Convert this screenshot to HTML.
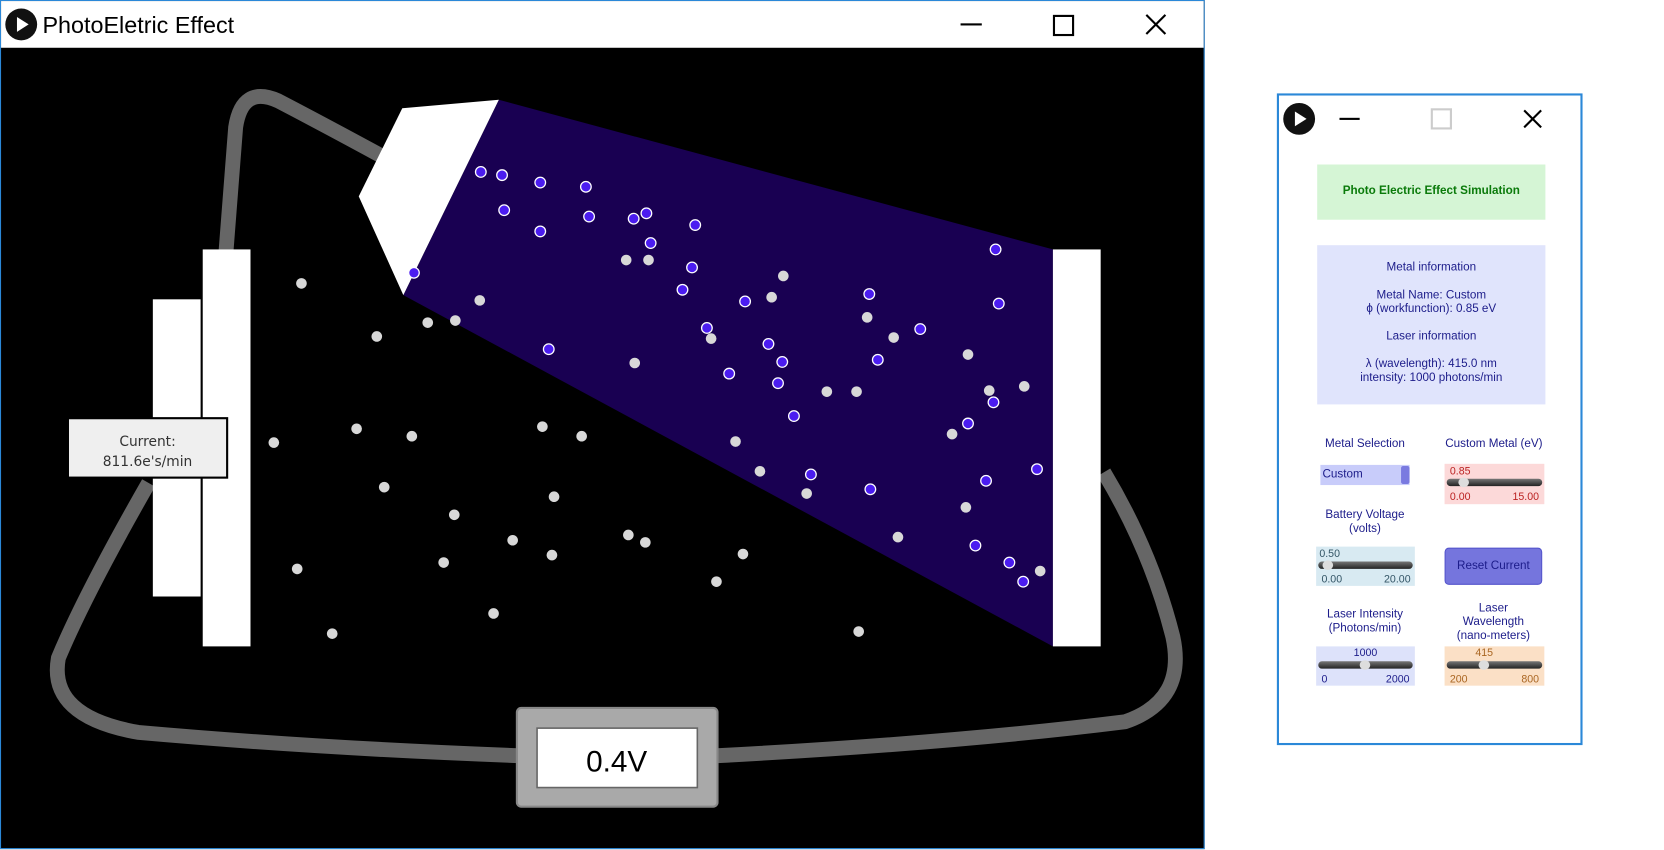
<!DOCTYPE html>
<html><head><meta charset="utf-8"><style>
html,body{margin:0;padding:0;background:#fff;width:1664px;height:850px;overflow:hidden;font-family:"Liberation Sans",sans-serif}
#root{position:absolute;left:0;top:0;width:1550px;height:800px;transform:scale(1.0614);transform-origin:0 0}
.abs{position:absolute}
.t{position:absolute;white-space:nowrap;font-size:11px;color:#1c1c8a;text-align:center}
</style></head><body>
<div id="root">
<div class="abs" style="left:0;top:0;width:1133px;height:798px;border:1px solid #2b88d8;background:#000">
 <div class="abs" style="left:0;top:0;width:1133px;height:44px;background:#fff">
  <div class="abs" style="left:4px;top:7px;width:30px;height:30px;border-radius:50%;background:#111"><div class="abs" style="left:11px;top:8px;width:0;height:0;border-left:11px solid #fff;border-top:7px solid transparent;border-bottom:7px solid transparent"></div></div>
  <div class="abs" style="left:39px;top:10px;font-size:22px;color:#000">PhotoEletric Effect</div>
  <div class="abs" style="left:904px;top:21px;width:20px;height:2px;background:#000"></div>
  <div class="abs" style="left:991px;top:13px;width:16px;height:16px;border:2px solid #000"></div>
  <svg class="abs" style="left:1078px;top:12px" width="20" height="20"><path d="M1 1L19 19M19 1L1 19" stroke="#000" stroke-width="2"/></svg>
 </div>
</div>
<svg class="abs" style="left:0;top:0" width="1135" height="800">
 <g fill="none" stroke="#666" stroke-width="14" stroke-linecap="butt">
  <path d="M213 236 L222 120 Q228 80 262 95 Q310 120 365 150"/>
  <path d="M140 455 Q80 560 55 620 Q45 675 130 690 Q300 705 490 712"/>
  <path d="M676 712 Q900 700 1060 680 Q1118 660 1105 600 Q1085 520 1040 445"/>
 </g>
 <polygon points="470,94 992,235 992,609 380,278" fill="#190052"/>
 <polygon points="379,102 470,94 380,278 338,185" fill="#fff"/>
 <rect x="144" y="282" width="45" height="280" fill="#fff"/>
 <rect x="191" y="235" width="45" height="374" fill="#fff"/>
 <rect x="992" y="235" width="45" height="374" fill="#fff"/>
 <g id="dots"></g>
 <rect x="64" y="394" width="150" height="56" fill="#efefef" stroke="#000" stroke-width="2"/>
 <text x="139" y="420" text-anchor="middle" font-family="DejaVu Sans, sans-serif" font-size="13" fill="#333">Current:</text>
 <text x="139" y="439" text-anchor="middle" font-family="DejaVu Sans, sans-serif" font-size="13" fill="#333">811.6e's/min</text>
 <rect x="487" y="667" width="189" height="93" rx="4" fill="#a9a9a9" stroke="#888" stroke-width="2"/>
 <rect x="506" y="686" width="151" height="56" fill="#fff" stroke="#666" stroke-width="1.5"/>
 <text x="581" y="727" text-anchor="middle" font-size="28" fill="#000">0.4V</text>
</svg>

<div class="abs" style="left:1203px;top:88px;width:284px;height:610px;border:2px solid #2b88d8;background:#fff">
 <div class="abs" style="left:4px;top:7px;width:30px;height:30px;border-radius:50%;background:#111"><div class="abs" style="left:11px;top:8px;width:0;height:0;border-left:11px solid #fff;border-top:7px solid transparent;border-bottom:7px solid transparent"></div></div>
 <div class="abs" style="left:57px;top:21px;width:19px;height:2px;background:#000"></div>
 <div class="abs" style="left:143px;top:12px;width:16px;height:16px;border:2px solid #ccc"></div>
 <svg class="abs" style="left:230px;top:13px" width="18" height="18"><path d="M1 1L17 17M17 1L1 17" stroke="#000" stroke-width="2"/></svg>
</div>
<div class="abs" style="left:1241px;top:155px;width:215px;height:52px;background:#d5f5d5"></div>
<div class="t" style="left:1241px;width:215px;top:174px;font-weight:bold;color:#0a7a0a">Photo Electric Effect Simulation</div>
<div class="abs" style="left:1241px;top:231px;width:215px;height:150px;background:#e0e4fc"></div>
<div class="t" style="left:1241px;width:215px;top:246px;line-height:13px">Metal information<br><br>Metal Name: Custom<br>ϕ (workfunction): 0.85 eV<br><br>Laser information<br><br>λ (wavelength): 415.0 nm<br>intensity: 1000 photons/min</div>

<div class="t" style="left:1236px;width:100px;top:412px">Metal Selection</div>
<div class="t" style="left:1350px;width:115px;top:412px">Custom Metal (eV)</div>
<div class="abs" style="left:1244px;top:438px;width:84px;height:19px;background:#c8ccfa"><span class="abs" style="left:2px;top:3px;font-size:11px;color:#1c1c8a">Custom</span><div class="abs" style="right:0;top:1px;width:8px;height:17px;background:#7a7ae0;border-radius:2px"></div></div>

<div class="abs" style="left:1361px;top:437px;width:94px;height:38px;background:#fcd9d9;color:#b22;font-size:10px">
 <span class="abs" style="left:5px;top:2px">0.85</span>
 <div class="abs" style="left:2px;top:14px;width:90px;height:7px;border-radius:4px;background:linear-gradient(#777,#222)"></div>
 <div class="abs" style="left:13px;top:13px;width:10px;height:9px;border-radius:50%;background:#ddd"></div>
 <span class="abs" style="left:5px;top:26px">0.00</span><span class="abs" style="right:5px;top:26px">15.00</span>
</div>

<div class="t" style="left:1236px;width:100px;top:479px;line-height:13px">Battery Voltage<br>(volts)</div>
<div class="abs" style="left:1240px;top:515px;width:93px;height:37px;background:#d8eaf2;color:#335566;font-size:10px">
 <span class="abs" style="left:3px;top:2px">0.50</span>
 <div class="abs" style="left:2px;top:14px;width:89px;height:7px;border-radius:4px;background:linear-gradient(#777,#222)"></div>
 <div class="abs" style="left:6px;top:13px;width:10px;height:9px;border-radius:50%;background:#ddd"></div>
 <span class="abs" style="left:5px;top:26px">0.00</span><span class="abs" style="right:4px;top:26px">20.00</span>
</div>
<div class="abs" style="left:1361px;top:516px;width:90px;height:33px;background:#7575dd;border:1px solid #5555cc;border-radius:4px;text-align:center;line-height:33px;font-size:11px;color:#1c1c8a">Reset Current</div>

<div class="t" style="left:1236px;width:100px;top:573px;line-height:13px">Laser Intensity<br>(Photons/min)</div>
<div class="t" style="left:1357px;width:100px;top:567px;line-height:13px">Laser<br>Wavelength<br>(nano-meters)</div>
<div class="abs" style="left:1240px;top:609px;width:93px;height:37px;background:#dde2fa;color:#1c1c8a;font-size:10px">
 <span class="abs" style="left:0;width:93px;text-align:center;top:1px">1000</span>
 <div class="abs" style="left:2px;top:14px;width:89px;height:7px;border-radius:4px;background:linear-gradient(#777,#222)"></div>
 <div class="abs" style="left:41px;top:13px;width:10px;height:9px;border-radius:50%;background:#ddd"></div>
 <span class="abs" style="left:5px;top:26px">0</span><span class="abs" style="right:5px;top:26px">2000</span>
</div>
<div class="abs" style="left:1361px;top:609px;width:94px;height:37px;background:#fbe0c6;color:#aa6622;font-size:10px">
 <span class="abs" style="left:29px;top:1px">415</span>
 <div class="abs" style="left:2px;top:14px;width:90px;height:7px;border-radius:4px;background:linear-gradient(#777,#222)"></div>
 <div class="abs" style="left:32px;top:13px;width:10px;height:9px;border-radius:50%;background:#ddd"></div>
 <span class="abs" style="left:5px;top:26px">200</span><span class="abs" style="right:5px;top:26px">800</span>
</div>
</div>
<script>
const photonX=[453,473,509,552,475,555,597,609,655,509,613,938,652,643,390,702,819,941,666,867,724,517,827,737,687,733,936,748,912,764,820,929,977,919,951,964];
const photonY=[162,165,172,176,198,204,206,201,212,218,229,235,252,273,257,284,277,286,309,310,324,329,339,341,352,361,379,392,399,447,461,453,442,514,530,548];
const electronX=[284,738,590,611,452,727,817,403,429,355,670,842,912,598,779,807,932,965,336,388,511,548,258,897,693,716,760,362,522,910,428,846,483,592,608,520,700,418,980,280,675,465,313,809];
const electronY=[267,260,245,245,283,280,299,304,302,317,319,318,334,342,369,369,368,364,404,411,402,411,417,409,416,444,465,459,468,478,485,506,509,504,511,523,522,530,538,536,548,578,597,595];
const g=document.getElementById('dots');const NS='http://www.w3.org/2000/svg';
for(let i=0;i<electronX.length;i++){const c=document.createElementNS(NS,'circle');


c.setAttribute('cx',electronX[i]);c.setAttribute('cy',electronY[i]);c.setAttribute('r',5);c.setAttribute('fill','#d8d8d8');g.appendChild(c);}
for(let i=0;i<photonX.length;i++){const c=document.createElementNS(NS,'circle');


c.setAttribute('cx',photonX[i]);c.setAttribute('cy',photonY[i]);c.setAttribute('r',5);c.setAttribute('fill','#4b1cf0');c.setAttribute('stroke','#fff');c.setAttribute('stroke-width','1.2');g.appendChild(c);}
</script>
</body></html>
